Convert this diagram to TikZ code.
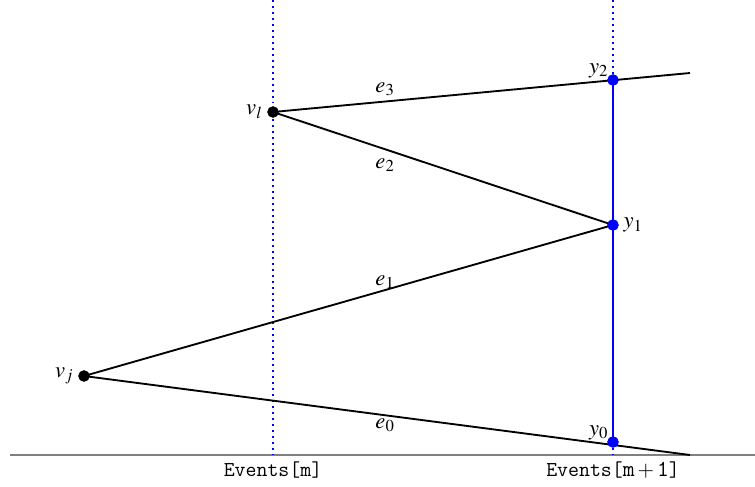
\documentclass[tikz,border=0pt]{standalone}
\usepackage{mathptmx}
\usepackage{tikz}
\usetikzlibrary{positioning, calc}

\begin{document}
\begin{tikzpicture}[
    x=0.02649cm, y=-0.02649cm,
    vtx/.style={circle, fill=black, inner sep=0pt, minimum size=8.5pt},
    ypt/.style={circle, fill=blue, inner sep=0pt, minimum size=8.5pt},
    edge/.style={black, line width=1.4pt},
    evline/.style={blue, line width=1.5pt, dash pattern=on 1.5pt off 3pt},
    lbl/.style={font=\fontsize{17}{20}\selectfont},
    evlbl/.style={font=\fontsize{16}{19}\selectfont}
  ]
  \useasboundingbox (0,0) rectangle (755,486);

  % ---- base line and event lines ----
  \coordinate (baseL) at (10,455);
  \coordinate (baseR) at (755,455);
  \draw[gray, line width=1.5pt] (baseL) -- (baseR);

  \coordinate (evmtop) at (273,0);
  \coordinate (evmbot) at (273,455);
  \coordinate (evntop) at (613,0);
  \coordinate (evnbot) at (613,455);
  \draw[evline] (evmtop) -- (evmbot);
  \draw[evline] (evntop) -- (evnbot);

  \node[evlbl] (evm) at (273,470) {\texttt{Events[m]}};
  \node[evlbl] (evn) at (613,470) {\texttt{Events[}$\mathtt{m+1}$\texttt{]}};

  % ---- vertices ----
  \node[vtx] (vj) at (84,376) {};
  \node[vtx] (vl) at (273,112) {};
  \node[lbl, left=0pt of vj] {$v_j$};
  \node[lbl, left=0pt of vl] {$v_l$};

  % ---- edge ends ----
  \coordinate (e3end) at (690,73);
  \coordinate (e0end) at (690,455);

  % ---- sweep points ----
  \node[ypt] (y2) at (613,80) {};
  \node[ypt] (y1) at (613,225) {};
  \node[ypt] (y0) at (613,442) {};
  \draw[blue, line width=1.5pt] (y0.center) -- (y2.center);

  % ---- edges ----
  \draw[edge] (vl.center) -- (e3end);
  \draw[edge] (vl.center) -- (y1.center);
  \draw[edge] (vj.center) -- (y1.center);
  \draw[edge] (vj.center) -- (e0end);

  \node[ypt] at (y2) {};
  \node[ypt] at (y1) {};
  \node[ypt] at (y0) {};
  \node[vtx] at (vj) {};
  \node[vtx] at (vl) {};

  \node[lbl] at (385,89) {$e_3$};
  \node[lbl] at (385,165) {$e_2$};
  \node[lbl] at (385,282) {$e_1$};
  \node[lbl] at (385,425) {$e_0$};
  \node[lbl, above left=-5pt and -3pt of y2] {$y_2$};
  \node[lbl, right=0pt of y1] {$y_1$};
  \node[lbl, above left=-5pt and -3pt of y0] {$y_0$};
\end{tikzpicture}
\end{document}
